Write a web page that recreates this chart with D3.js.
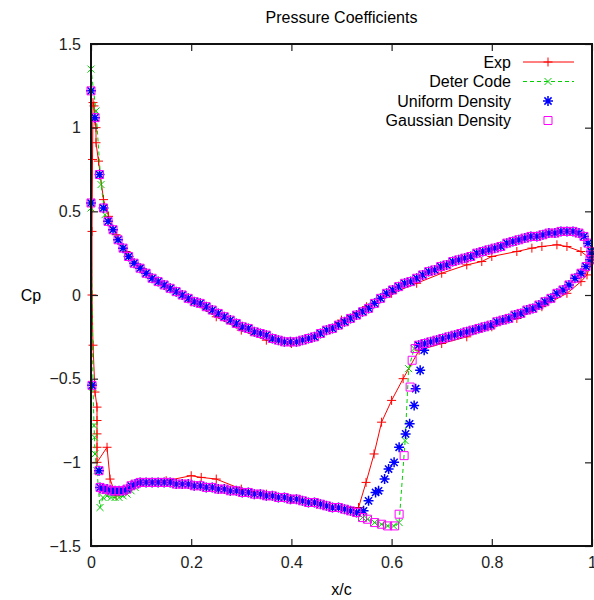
<!DOCTYPE html>
<html>
<head>
<meta charset="utf-8">
<script src="https://cdn.jsdelivr.net/npm/d3@7"></script>
<style>
  body { margin: 0; background: #fff; }
  text { font-family: "Liberation Sans", Arial, sans-serif; }
</style>
</head>
<body>
<div id="chart"></div>
<script>
// tick labels
var xTicks = [0, 0.2, 0.4, 0.6, 0.8, 1];
var yTicks = [-1.5, -1, -0.5, 0, 0.5, 1, 1.5];

// experiment (x/c, Cp), in surface order
var expX  = [1.0, 0.978, 0.95, 0.93, 0.9, 0.88, 0.85, 0.8, 0.78, 0.75, 0.7, 0.65, 0.6, 0.55, 0.5, 0.45, 0.4, 0.35, 0.3, 0.25, 0.2, 0.15, 0.1, 0.07, 0.05, 0.035, 0.025, 0.015, 0.01, 0.01, 0.008, 0.006, 0.004,
             0.003, 0.002, 0.002, 0.004, 0.008, 0.012, 0.012, 0.012, 0.012, 0.012, 0.032, 0.038, 0.05, 0.07, 0.1, 0.15, 0.2, 0.22, 0.25, 0.3, 0.35, 0.4, 0.45, 0.5, 0.534,
             0.549, 0.565, 0.58, 0.6, 0.623, 0.655, 0.7, 0.75, 0.8, 0.85, 0.9, 0.95, 0.978, 0.99, 1.0];
var expCp = [0.21, 0.26, 0.29, 0.30, 0.29, 0.28, 0.26, 0.23, 0.20, 0.18, 0.13, 0.07, 0.01, -0.07, -0.15, -0.24, -0.29, -0.27, -0.21, -0.13, -0.04, 0.05, 0.16, 0.26, 0.36, 0.47, 0.57, 0.8, 0.91, 1.0, 1.04, 1.13, 1.15,
             0.81, 0.38, 0.0, -0.3, -0.58, -0.67, -0.75, -0.83, -0.91, -1.0, -0.91, -1.1, -1.2, -1.17, -1.12, -1.11, -1.08, -1.09, -1.1, -1.16, -1.19, -1.22, -1.25, -1.27, -1.27,
             -1.12, -0.95, -0.76, -0.63, -0.5, -0.33, -0.29, -0.25, -0.19, -0.14, -0.07, 0.01, 0.08, 0.12, 0.21];

// computed: upper branch (LE -> TE), shared by the three codes
var upperX  = [0.034, 0.044, 0.054, 0.064, 0.075, 0.086, 0.098, 0.110, 0.122, 0.134, 0.146, 0.158, 0.170, 0.182, 0.194, 0.206, 0.218, 0.230, 0.242, 0.254, 0.266, 0.278, 0.290, 0.302, 0.314, 0.326, 0.338, 0.350,
               0.362, 0.374, 0.386, 0.398, 0.410, 0.422, 0.434, 0.446, 0.458, 0.470, 0.482, 0.494, 0.506, 0.518, 0.530, 0.542, 0.554, 0.566, 0.578, 0.590, 0.602, 0.614, 0.626, 0.638, 0.650, 0.662,
               0.674, 0.686, 0.698, 0.710, 0.722, 0.734, 0.746, 0.758, 0.770, 0.782, 0.794, 0.806, 0.818, 0.830, 0.842, 0.854, 0.866, 0.878, 0.890, 0.902, 0.914, 0.926, 0.938, 0.950, 0.962, 0.974,
               0.984, 0.992, 0.998];
var upperCp = [0.44, 0.39, 0.33, 0.28, 0.23, 0.19, 0.16, 0.13, 0.10, 0.08, 0.06, 0.04, 0.02, 0.00, -0.02, -0.04, -0.05, -0.07, -0.09, -0.11, -0.13, -0.15, -0.17, -0.19, -0.20, -0.22, -0.23, -0.24,
               -0.26, -0.27, -0.28, -0.28, -0.28, -0.27, -0.26, -0.25, -0.23, -0.21, -0.20, -0.18, -0.16, -0.14, -0.12, -0.10, -0.08, -0.05, -0.02, 0.01, 0.03, 0.05, 0.07, 0.08, 0.10, 0.12,
               0.14, 0.15, 0.17, 0.18, 0.20, 0.21, 0.22, 0.23, 0.25, 0.26, 0.27, 0.28, 0.29, 0.31, 0.32, 0.33, 0.34, 0.35, 0.35, 0.36, 0.37, 0.37, 0.38, 0.38, 0.38, 0.37,
               0.35, 0.31, 0.26];

// computed: lower branch behind the shock (TE -> shock)
var aftX  = [1.000, 0.996, 0.988, 0.978, 0.966, 0.954, 0.942, 0.930, 0.918, 0.906, 0.894, 0.882, 0.870, 0.858, 0.846, 0.834, 0.822, 0.810, 0.798, 0.786, 0.774, 0.762, 0.750, 0.738, 0.726, 0.714, 0.702, 0.690, 0.678, 0.666, 0.654];
var aftCp = [0.24, 0.21, 0.17, 0.13, 0.10, 0.06, 0.03, 0.01, -0.02, -0.04, -0.06, -0.08, -0.09, -0.11, -0.12, -0.14, -0.15, -0.16, -0.18, -0.19, -0.20, -0.21, -0.22, -0.23, -0.24, -0.25, -0.26, -0.27, -0.28, -0.29, -0.30];

// computed: lower branch ahead of the shock (shock foot -> near LE)
var foreX  = [0.530, 0.518, 0.506, 0.494, 0.482, 0.470, 0.458, 0.446, 0.434, 0.422, 0.410, 0.398, 0.386, 0.374, 0.362, 0.350, 0.338, 0.326, 0.314, 0.302, 0.290, 0.278, 0.266, 0.254, 0.242, 0.230, 0.218, 0.206, 0.194, 0.182, 0.170, 0.158, 0.146, 0.134, 0.122, 0.110, 0.098];
var foreCp = [-1.30, -1.29, -1.28, -1.27, -1.27, -1.26, -1.25, -1.24, -1.24, -1.23, -1.22, -1.22, -1.21, -1.21, -1.20, -1.20, -1.19, -1.19, -1.18, -1.18, -1.17, -1.17, -1.16, -1.16, -1.15, -1.15, -1.14, -1.14, -1.13, -1.13, -1.13, -1.12, -1.12, -1.12, -1.12, -1.12, -1.12];

// shock region of each code
var shockDeterX  = [0.645, 0.634, 0.627, 0.615, 0.604, 0.592, 0.580, 0.566, 0.552, 0.542];
var shockDeterCp = [-0.32, -0.44, -0.87, -1.36, -1.38, -1.38, -1.37, -1.36, -1.34, -1.33];
var shockUniformX  = [0.665, 0.657, 0.648, 0.645, 0.636, 0.628, 0.615, 0.605, 0.594, 0.586, 0.574, 0.568, 0.554, 0.544];
var shockUniformCp = [-0.33, -0.45, -0.56, -0.66, -0.77, -0.83, -0.91, -1.00, -1.04, -1.10, -1.17, -1.18, -1.23, -1.29];
var shockGaussX  = [0.647, 0.641, 0.637, 0.625, 0.615, 0.606, 0.592, 0.580, 0.566, 0.552, 0.542];
var shockGaussCp = [-0.32, -0.39, -0.55, -0.96, -1.31, -1.38, -1.38, -1.37, -1.36, -1.34, -1.33];

// leading edge region of each code (lower side -> stagnation -> upper side)
var leDeterX  = [0.088, 0.080, 0.072, 0.064, 0.056, 0.048, 0.040, 0.032, 0.024, 0.018, 0.012, 0.008, 0.007, 0.006, 0.004, 0.000, 0.000, 0.010, 0.020, 0.028];
var leDeterCp = [-1.15, -1.17, -1.19, -1.20, -1.21, -1.21, -1.21, -1.20, -1.21, -1.27, -1.05, -0.95, -0.85, -0.78, -0.55, 0.52, 1.35, 1.10, 0.66, 0.48];
var leDensityX  = [0.088, 0.080, 0.072, 0.064, 0.056, 0.048, 0.040, 0.032, 0.024, 0.018, 0.016, 0.002, 0.000, 0.000, 0.008, 0.017, 0.025];
var leDensityCp = [-1.13, -1.14, -1.16, -1.17, -1.17, -1.17, -1.17, -1.16, -1.16, -1.15, -1.05, -0.54, 0.55, 1.22, 1.06, 0.72, 0.52];

function pts(xs, ys) {
  return xs.map(function(v, i) { return {x: v, cp: ys[i]}; });
}

var expData = pts(expX, expCp);
var deterData = [].concat(pts(aftX, aftCp), pts(shockDeterX, shockDeterCp), pts(foreX, foreCp), pts(leDeterX, leDeterCp), pts(upperX, upperCp));
var uniformData = [].concat(pts(aftX, aftCp), pts(shockUniformX, shockUniformCp), pts(foreX, foreCp), pts(leDensityX, leDensityCp), pts(upperX, upperCp));
var gaussData = [].concat(pts(aftX, aftCp), pts(shockGaussX, shockGaussCp), pts(foreX, foreCp), pts(leDensityX, leDensityCp), pts(upperX, upperCp));

var W = 594, H = 600;
var plotLeft = 91, plotRight = 592, plotTop = 44, plotBottom = 546;

var svg = d3.select("#chart").append("svg")
    .attr("width", W)
    .attr("height", H);

var x = d3.scaleLinear().domain([0, 1]).range([plotLeft, plotRight]);
var y = d3.scaleLinear().domain([-1.5, 1.5]).range([plotBottom, plotTop]);

// marker shapes, gnuplot style
var shapes = {
  plus:   "M-4.5,0H4.5M0,-4.5V4.5",
  cross:  "M-3.5,-3.5L3.5,3.5M-3.5,3.5L3.5,-3.5",
  star:   "M-5,0H5M0,-5V5M-3.6,-3.6L3.6,3.6M-3.6,3.6L3.6,-3.6",
  square: "M-4,-4H4V4H-4Z"
};

var series = [
  {name: "Exp",              data: expData,     color: "#ff0000", shape: "plus",   line: true,  dash: null,  sw: 1},
  {name: "Deter Code",       data: deterData,   color: "#00d000", shape: "cross",  line: true,  dash: "4,3", sw: 1},
  {name: "Uniform Density",  data: uniformData, color: "#0000ff", shape: "star",   line: false, dash: null,  sw: 1.5},
  {name: "Gaussian Density", data: gaussData,   color: "#ff00ff", shape: "square", line: false, dash: null,  sw: 1}
];

//draw the series
var line = d3.line()
  .x(function(d) { return x(d.x); })
  .y(function(d) { return y(d.cp); });

series.forEach(function(s) {
  var g = svg.append("g");
  if (s.line) {
    g.append("path")
      .datum(s.data)
      .attr("d", line)
      .attr("fill", "none")
      .attr("stroke", s.color)
      .attr("stroke-width", 1)
      .attr("stroke-dasharray", s.dash);
  }
  g.selectAll("path.pt")
    .data(s.data)
    .enter().append("path")
      .attr("class", "pt")
      .attr("transform", function(d) { return "translate(" + x(d.x) + "," + y(d.cp) + ")"; })
      .attr("d", shapes[s.shape])
      .attr("fill", "none")
      .attr("stroke", s.color)
      .attr("stroke-width", s.sw);
});

//axes, ticks inside, mirrored on top and right
function styleAxis(g) {
  g.select(".domain").remove();
  g.selectAll(".tick line").attr("stroke", "#222").attr("stroke-width", 1.2);
  g.selectAll(".tick text").attr("fill", "#222").style("font-size", "16px")
    .style("font-family", "'Liberation Sans', Arial, sans-serif");
}

svg.append("g")
  .attr("transform", "translate(0," + plotBottom + ")")
  .call(d3.axisBottom(x).tickValues(xTicks).tickFormat(d3.format("")).tickSize(-7).tickPadding(11))
  .call(styleAxis);
svg.append("g")
  .attr("transform", "translate(0," + plotTop + ")")
  .call(d3.axisTop(x).tickValues(xTicks).tickFormat("").tickSize(-7))
  .call(styleAxis);
svg.append("g")
  .attr("transform", "translate(" + plotLeft + ",0)")
  .call(d3.axisLeft(y).tickValues(yTicks).tickFormat(d3.format("")).tickSize(-7).tickPadding(10))
  .call(styleAxis);
svg.append("g")
  .attr("transform", "translate(" + plotRight + ",0)")
  .call(d3.axisRight(y).tickValues(yTicks).tickFormat("").tickSize(-7))
  .call(styleAxis);

svg.append("rect")
  .attr("x", plotLeft).attr("y", plotTop)
  .attr("width", plotRight - plotLeft).attr("height", plotBottom - plotTop)
  .attr("fill", "none")
  .attr("stroke", "#111")
  .attr("stroke-width", 2);

//titles
svg.append("text")
  .attr("x", (plotLeft + plotRight) / 2).attr("y", 23)
  .attr("text-anchor", "middle")
  .style("font-size", "16px")
  .text("Pressure Coefficients");
svg.append("text")
  .attr("x", (plotLeft + plotRight) / 2).attr("y", 595)
  .attr("text-anchor", "middle")
  .style("font-size", "16px")
  .text("x/c");
svg.append("text")
  .attr("x", 31).attr("y", 301)
  .attr("text-anchor", "middle")
  .style("font-size", "16px")
  .text("Cp");

//legend
var legend = svg.append("g");
series.forEach(function(s, i) {
  var ly = 62 + i * 19.5;
  legend.append("text")
    .attr("x", 511).attr("y", ly)
    .attr("dy", "0.35em")
    .attr("text-anchor", "end")
    .style("font-size", "16px")
    .text(s.name);
  if (s.line) {
    legend.append("line")
      .attr("x1", 523).attr("x2", 574)
      .attr("y1", ly).attr("y2", ly)
      .attr("stroke", s.color)
      .attr("stroke-dasharray", s.dash);
  }
  legend.append("path")
    .attr("transform", "translate(548," + ly + ")")
    .attr("d", shapes[s.shape])
    .attr("fill", "none")
    .attr("stroke", s.color)
    .attr("stroke-width", s.sw);
});
</script>
</body>
</html>
